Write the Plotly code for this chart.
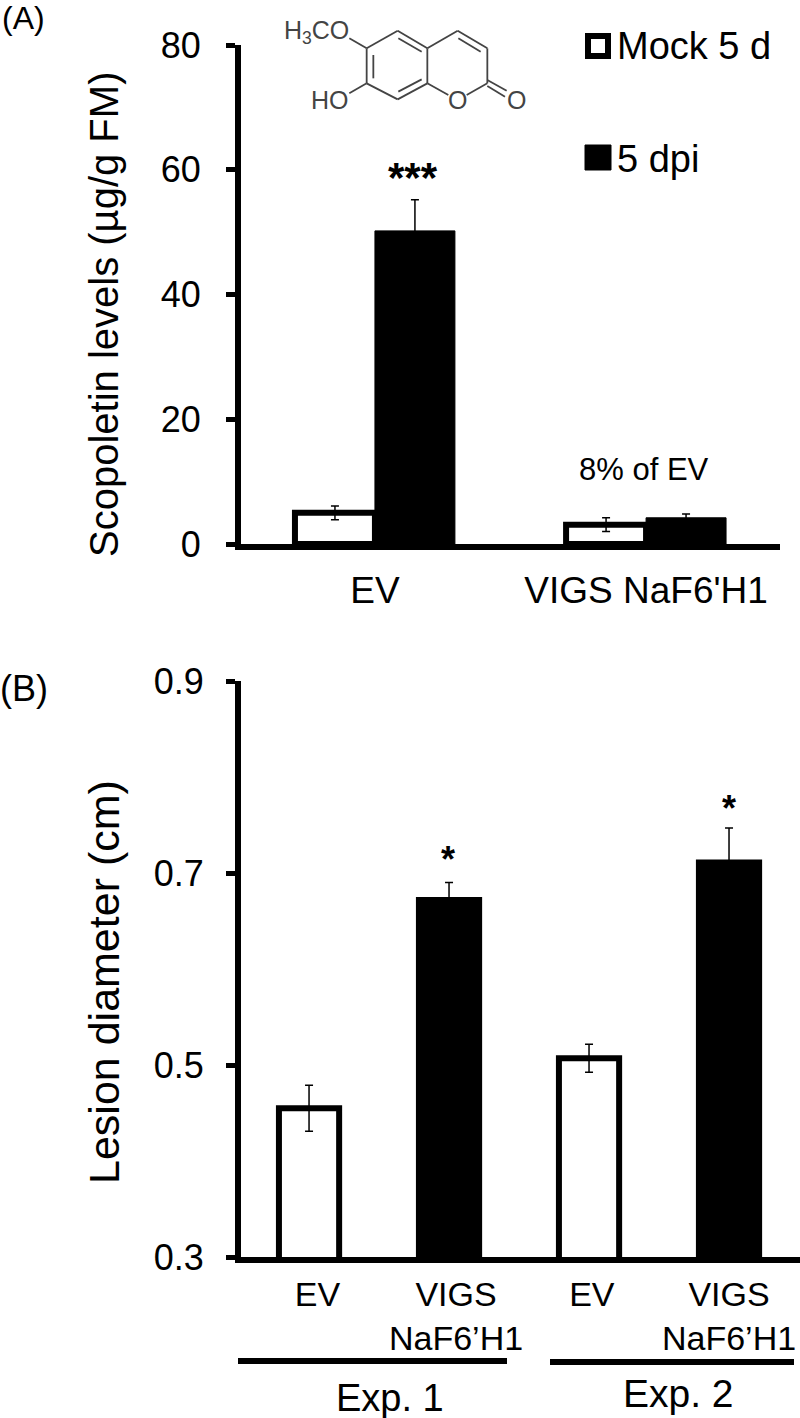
import plotly.graph_objects as go

W, H = 800, 1418
FONT = "Liberation Sans"

# Panel A data
a_groups = ["EV", "VIGS NaF6'H1"]
a_positions = [0, 1]
a_mock = [5.0, 3.1]
a_mock_err = [1.1, 1.1]
a_dpi = [50.2, 4.2]
a_dpi_err = [5.0, 0.6]
a_ticks = [0, 20, 40, 60, 80]

# Panel B data
b_labels = ["EV", "VIGS<br>NaF6\u2019H1", "EV", "VIGS<br>NaF6\u2019H1"]
b_positions = [0, 1, 2, 3]
b_label_positions = [0.06, 1.05, 2.02, 3.0]
b_values = [0.455, 0.672, 0.507, 0.711]
b_errors = [0.024, 0.018, 0.0145, 0.036]
b_colors = ["white", "black", "white", "black"]
b_ticks = [0.3, 0.5, 0.7, 0.9]


def px(x):
    return x / W


def py(y):
    return 1 - y / H


fig = go.Figure()

err = lambda v: dict(type="data", array=v, color="black", thickness=1.5, width=4)
fig.add_trace(go.Bar(x=a_positions, y=a_mock, error_y=err(a_mock_err), name="Mock 5 d",
                     marker=dict(color="white", line=dict(color="black", width=6)),
                     xaxis="x", yaxis="y", offsetgroup="m", showlegend=False))
fig.add_trace(go.Bar(x=a_positions, y=a_dpi, error_y=err(a_dpi_err), name="5 dpi",
                     marker=dict(color="black", line=dict(color="black", width=1)),
                     xaxis="x", yaxis="y", offsetgroup="d", showlegend=False))
fig.add_trace(go.Bar(x=b_positions, y=b_values, error_y=err(b_errors), width=0.43,
                     marker=dict(color=b_colors, line=dict(color="black", width=6)),
                     xaxis="x2", yaxis="y2", showlegend=False))

shapes = []
annotations = []


def line(x0, y0, x1, y1, color="#444", width=1.8):
    shapes.append(dict(type="line", xref="paper", yref="paper", x0=px(x0), y0=py(y0),
                       x1=px(x1), y1=py(y1), line=dict(color=color, width=width)))


def text(x, y, s, size, color="black", angle=0, bold=False):
    annotations.append(dict(xref="paper", yref="paper", x=px(x), y=py(y), text=f"<b>{s}</b>" if bold else s,
                            showarrow=False, textangle=angle, xanchor="center", yanchor="middle",
                            font=dict(family=FONT, size=size, color=color)))


# Scopoletin structure (zoomed-crop coordinates)
def mol(x, y):
    return 230 + x / 3, y / 3


bonds = [((410, 145), (503, 92)), ((503, 92), (592, 145)), ((592, 145), (592, 250)),
         ((592, 250), (503, 298)), ((503, 298), (410, 250)), ((410, 250), (410, 145)),
         ((592, 145), (683, 92)), ((683, 92), (772, 145)), ((772, 145), (772, 250)),
         ((505, 115), (575, 155)), ((430, 165), (430, 235)), ((505, 275), (575, 238)),
         ((685, 115), (752, 155)), ((410, 145), (358, 115)), ((410, 250), (358, 280)),
         ((592, 250), (655, 285)), ((710, 285), (772, 250)), ((772, 240), (830, 272)),
         ((772, 258), (825, 290))]
for p, q in bonds:
    line(*mol(*p), *mol(*q))
text(*mol(258, 97), "H<sub>3</sub>CO", 25, "#444")
text(*mol(300, 300), "HO", 25, "#444")
text(*mol(683, 300), "O", 25, "#444")
text(*mol(860, 300), "O", 25, "#444")

# Legend
shapes.append(dict(type="rect", xref="paper", yref="paper", x0=px(588), x1=px(608), y0=py(56), y1=py(36),
                   fillcolor="white", line=dict(color="black", width=6)))
shapes.append(dict(type="rect", xref="paper", yref="paper", x0=px(585), x1=px(611), y0=py(170), y1=py(145),
                   fillcolor="black", line=dict(color="black", width=1)))
text(694, 46, "Mock 5 d", 38)
text(658, 159, "5 dpi", 38)

# Panel letters, notes
text(23, 18, "(A)", 32)
text(24, 688, "(B)", 36)
text(104, 315, "Scopoletin levels (\u00b5g/g FM)", 40, angle=-90)
text(104, 982, "Lesion diameter (cm)", 43, angle=-90)
text(413, 177, "***", 42, bold=True)
text(644, 470, "8% of EV", 31)
text(448, 860, "*", 36, bold=True)
text(729, 808, "*", 36, bold=True)

# Exp. brackets
line(238, 1361, 507, 1361, "black", 6)
line(550, 1362, 794, 1362, "black", 6)
text(390, 1398, "Exp. 1", 38)
text(678, 1393, "Exp. 2", 39)

axis_common = dict(showline=True, linecolor="black", linewidth=6, showgrid=False, zeroline=False,
                   tickfont=dict(family=FONT, size=36, color="black"))
fig.update_layout(
    width=W, height=H, margin=dict(l=0, r=0, t=0, b=0, autoexpand=False),
    paper_bgcolor="white", plot_bgcolor="white",
    barmode="group", bargap=0.41, bargroupgap=0,
    shapes=shapes, annotations=annotations,
    xaxis=dict(axis_common, domain=[px(241), px(780)], range=[-0.494, 1.494], anchor="y",
               tickvals=a_positions, ticktext=a_groups, ticks="", ticklabelstandoff=9,
               tickfont=dict(family=FONT, size=37, color="black")),
    yaxis=dict(axis_common, domain=[py(544), py(45)], range=[0, 80], anchor="x",
               tickvals=a_ticks, ticks="outside", ticklen=9, tickwidth=5, tickcolor="black",
               ticklabelstandoff=18),
    xaxis2=dict(axis_common, domain=[px(241), 1], range=[-0.486, 3.507], anchor="y2",
                tickvals=b_label_positions, ticktext=b_labels, ticks="", ticklabelstandoff=2,
                tickfont=dict(family=FONT, size=34, color="black")),
    yaxis2=dict(axis_common, domain=[py(1257), py(681)], range=[0.3, 0.9], anchor="x2",
                tickvals=b_ticks, ticktext=["0.3", "0.5", "0.7", "0.9"], ticks="outside",
                ticklen=9, tickwidth=5, tickcolor="black", ticklabelstandoff=15),
)

fig.write_html("out.html", post_script="document.body.style.margin='0';", config={"displayModeBar": False})
